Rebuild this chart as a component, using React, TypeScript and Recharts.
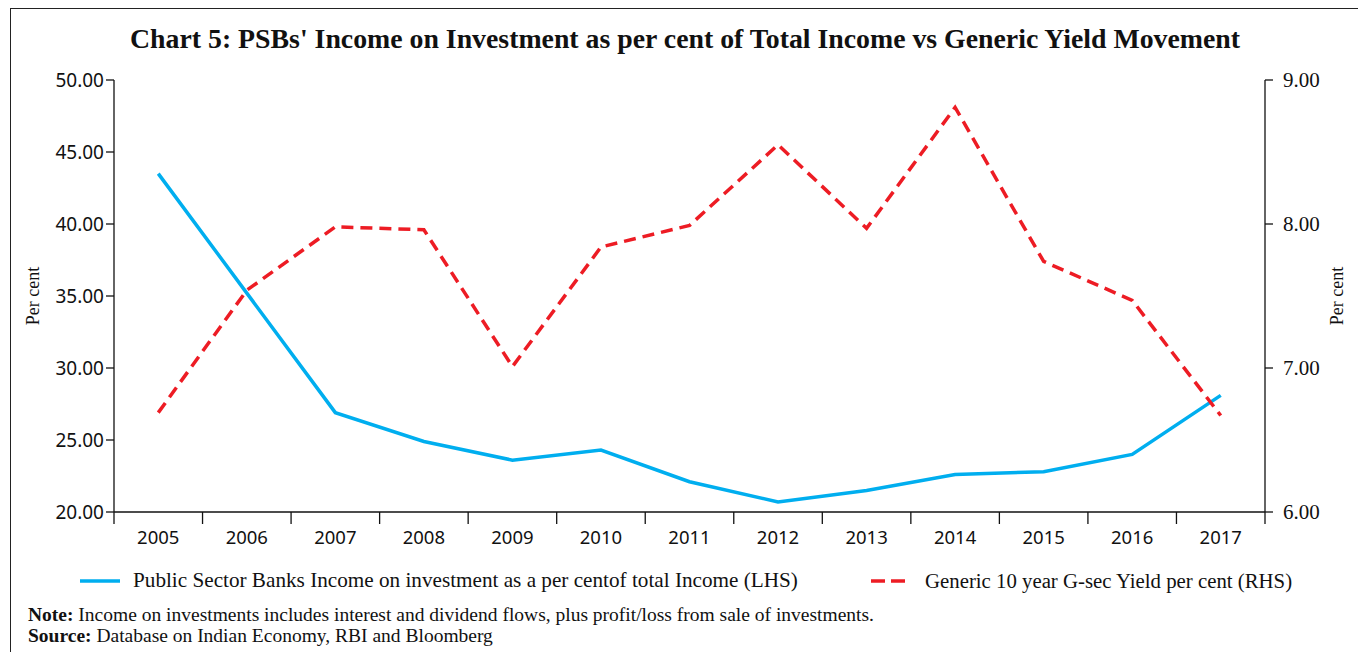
import React from "react";
import { LineChart, Line, XAxis, YAxis } from "recharts";

// Years on the x axis
const years = [2005, 2006, 2007, 2008, 2009, 2010, 2011, 2012, 2013, 2014, 2015, 2016, 2017];

// PSBs income on investment as % of total income (LHS)
const psbIncomeShare = [43.5, 35.2, 26.9, 24.9, 23.6, 24.3, 22.1, 20.7, 21.5, 22.6, 22.8, 24.0, 28.1];

// Generic 10 year G-sec yield, per cent (RHS)
const gsecYield = [6.69, 7.54, 7.98, 7.96, 7.01, 7.84, 7.99, 8.55, 7.97, 8.81, 7.74, 7.47, 6.67];

const leftTicks = [20, 25, 30, 35, 40, 45, 50];
const rightTicks = [6, 7, 8, 9];

const BLUE = "#00AEEF";
const RED = "#ED1C24";
const SERIF = "'Liberation Serif', 'DejaVu Serif', serif";

const data = years.map((year, i) => ({
  year,
  psb: psbIncomeShare[i],
  gsec: gsecYield[i],
}));

// tick marks sit between years, labels sit on the years
const xTicks: number[] = [years[0] - 0.5];
years.forEach((y) => {
  xTicks.push(y);
  xTicks.push(y + 0.5);
});

const XTick = (props: any) => {
  const { x, y, payload } = props;
  const v = payload.value;
  if (Number.isInteger(v)) {
    return (
      <text
        x={x}
        y={y + 24}
        textAnchor="middle"
        fontFamily="'Noto Sans', sans-serif"
        fontSize={18.5}
        fill="#111"
      >
        {v}
      </text>
    );
  }
  return <line x1={x} x2={x} y1={y - 8} y2={y + 4} stroke="#111" strokeWidth={1.3} />;
};

export default function App() {
  return (
    <div
      style={{
        position: "absolute",
        left: 0,
        top: 0,
        width: 1358,
        height: 652,
        background: "#fff",
        overflow: "hidden",
      }}
    >
      {/* frame */}
      <div
        style={{
          position: "absolute",
          left: 10,
          top: 8,
          right: 0,
          bottom: 0,
          borderTop: "1.5px solid #222",
          borderLeft: "1.5px solid #222",
        }}
      />
      <div
        style={{
          position: "absolute",
          left: 6,
          width: 1358,
          top: 23,
          textAlign: "center",
          fontFamily: SERIF,
          fontWeight: "bold",
          fontSize: 27.8,
          color: "#111",
        }}
      >
        Chart 5: PSBs' Income on Investment as per cent of Total Income vs Generic Yield Movement
      </div>

      <div style={{ position: "absolute", left: 0, top: 0 }}>
        <LineChart
          width={1358}
          height={560}
          data={data}
          margin={{ top: 80, left: 54, right: 33, bottom: 18 }}
        >
          <XAxis
            dataKey="year"
            type="number"
            domain={[years[0] - 0.5, years[years.length - 1] + 0.5]}
            ticks={xTicks}
            interval={0}
            tickLine={false}
            tick={<XTick />}
            axisLine={{ stroke: "#111", strokeWidth: 1.3 }}
            height={30}
          />
          <YAxis
            yAxisId="left"
            domain={[20, 50]}
            ticks={leftTicks}
            interval={0}
            width={60}
            tickFormatter={(v) => v.toFixed(2)}
            tick={{ fontFamily: "'Noto Sans', sans-serif", fontSize: 19, fill: "#111" }}
            tickLine={{ stroke: "#111", strokeWidth: 1.3 }}
            tickSize={8}
            axisLine={{ stroke: "#111", strokeWidth: 1.3 }}
            label={{
              value: "Per cent",
              angle: -90,
              position: "insideLeft",
              offset: -21,
              style: { fontFamily: SERIF, fontSize: 18, fill: "#111", textAnchor: "middle" },
            }}
          />
          <YAxis
            yAxisId="right"
            orientation="right"
            domain={[6, 9]}
            ticks={rightTicks}
            interval={0}
            width={60}
            tickFormatter={(v) => v.toFixed(2)}
            tick={{ fontFamily: SERIF, fontSize: 21, fill: "#111", dx: 8 }}
            tickLine={{ stroke: "#111", strokeWidth: 1.3 }}
            tickSize={8}
            axisLine={{ stroke: "#111", strokeWidth: 1.3 }}
            label={{
              value: "Per cent",
              angle: -90,
              position: "insideRight",
              offset: -12,
              style: { fontFamily: SERIF, fontSize: 18, fill: "#111", textAnchor: "middle" },
            }}
          />
          <Line
            yAxisId="left"
            type="linear"
            dataKey="psb"
            stroke={BLUE}
            strokeWidth={3.5}
            dot={false}
            activeDot={false}
            isAnimationActive={false}
          />
          <Line
            yAxisId="right"
            type="linear"
            dataKey="gsec"
            stroke={RED}
            strokeWidth={3.5}
            strokeDasharray="12 7"
            dot={false}
            activeDot={false}
            isAnimationActive={false}
          />
        </LineChart>
      </div>

      {/* legend */}
      <div
        style={{
          position: "absolute",
          top: 568,
          left: 0,
          width: 1358,
          fontFamily: SERIF,
          fontSize: 21.2,
          lineHeight: "25px",
          color: "#111",
        }}
      >
        <svg width={44} height={6} style={{ position: "absolute", left: 80, top: 10 }}>
          <line x1={0} x2={40} y1={3} y2={3} stroke={BLUE} strokeWidth={3.5} />
        </svg>
        <span style={{ position: "absolute", left: 133, whiteSpace: "nowrap" }}>
          Public Sector Banks Income on investment as a per centof total Income (LHS)
        </span>
        <svg width={40} height={6} style={{ position: "absolute", left: 871, top: 10 }}>
          <line x1={0} x2={35} y1={3} y2={3} stroke={RED} strokeWidth={3.5} strokeDasharray="14 6" />
        </svg>
        <span style={{ position: "absolute", left: 925, whiteSpace: "nowrap", fontSize: 20.8 }}>
          Generic 10 year G-sec Yield per cent (RHS)
        </span>
      </div>

      {/* note and source */}
      <div
        style={{
          position: "absolute",
          left: 28,
          top: 604,
          fontFamily: SERIF,
          fontSize: 19.5,
          lineHeight: "21px",
          color: "#111",
          whiteSpace: "nowrap",
        }}
      >
        <div>
          <b>Note:</b> Income on investments includes interest and dividend flows, plus profit/loss from sale of investments.
        </div>
        <div>
          <b>Source:</b> Database on Indian Economy, RBI and Bloomberg
        </div>
      </div>
    </div>
  );
}
